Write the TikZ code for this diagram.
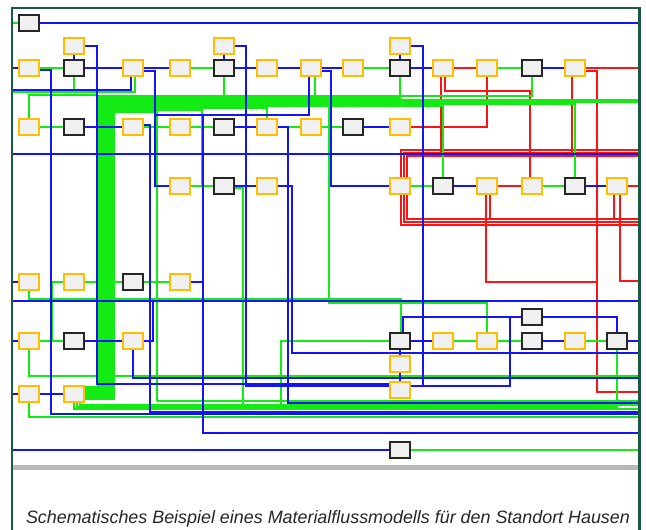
\documentclass[tikz,border=0pt]{standalone}
\usepackage{fontspec}
\setmainfont{Liberation Sans}
\usetikzlibrary{calc,positioning}
\pgfdeclarelayer{lines}
\pgfsetlayers{lines,main}
\definecolor{flowblue}{RGB}{20,20,245}
\definecolor{flowgreen}{RGB}{20,235,20}
\definecolor{flowred}{RGB}{250,20,20}
\definecolor{framegreen}{RGB}{25,90,65}
\definecolor{boxyellow}{RGB}{255,190,0}
\definecolor{boxfill}{RGB}{240,240,240}

\begin{document}
\begin{tikzpicture}[x=1pt,y=-1pt,
    ybox/.style={draw=boxyellow, fill=boxfill, line width=1.5pt, minimum width=20pt, minimum height=16pt, inner sep=0pt},
    kbox/.style={draw=black!85, fill=boxfill, line width=1.8pt, minimum width=20pt, minimum height=16pt, inner sep=0pt},
    bl/.style={draw=flowblue, line width=1.4pt},
    blt/.style={draw=flowblue, line width=2.4pt},
    gr/.style={draw=flowgreen, line width=1.4pt},
    gb/.style={draw=flowgreen, line width=1.1pt},
    rd/.style={draw=flowred, line width=1.4pt},
    rdt/.style={draw=flowred, line width=2.6pt},
]
\useasboundingbox (0,0) rectangle (646,530);
\begin{pgfonlayer}{lines}
\fill[white] (0,0) rectangle (646,530);
\end{pgfonlayer}

% Stations
\foreach \n/\x/\y in {T1/29/23, A2/74/68, A5/224/68, A9/400/68, A12/532/68, B2/74/127, B5/224/127,
    B8/353/127, C5/224/186, C10/443/186, C13/575/186, D3/133/282, G12/532/317, E2/74/341,
    E9/400/341, E12/532/341, E14/617/341, L9/400/450}
  \node[kbox] (\n) at (\x,\y) {};
\foreach \n/\x/\y in {S2/74/46, S5/224/46, S9/400/46, A1/29/68, A3/133/68, A4/180/68, A6/267/68,
    A7/311/68, A8/353/68, A10/443/68, A11/487/68, A13/575/68, B1/29/127, B3/133/127, B4/180/127,
    B6/267/127, B7/311/127, B9/400/127, C4/180/186, C6/267/186, C9/400/186, C11/487/186,
    C12/532/186, C14/617/186, D1/29/282, D2/74/282, D4/180/282, E1/29/341, E3/133/341,
    E10/443/341, E11/487/341, E13/575/341, H9/400/364, J9/400/390, F1/29/394, F2/74/394}
  \node[ybox] (\n) at (\x,\y) {};

\coordinate (g2) at (640,100);
\coordinate (g3) at (640,102);
\coordinate (g7) at (202,186);
\coordinate (g8) at (157,401);

\begin{pgfonlayer}{lines}
% Red flows
\draw[rd] (A10) -- (A11);
\draw[rd] (A13) -- (640,68);
\draw[rd] (C11) -- (C12);
\draw[rdt] ($(A13.east)+(0,3)$) -| (597,392) -- (640,392);
\draw[rd] ($(A10.south)+(2,0)$) |- (530,91) -- ($(C12.north)+(-2,0)$);
\draw[rd] (640,150) -- (401,150) -- (401,225) -- (640,225);
\draw[rdt] (640,153) -- (404,153) -- (404,222) -- (640,222);
\draw[rd] (640,156) -- (407,156) -- (407,219) -- (640,219);
\draw[rd] ($(A10.south)+(-2,0)$) -- (441,153);
\draw[rd] ($(A13.south)+(-3,0)$) -- (572,156);
\draw[rd] ($(C11.south)+(-1,0)$) |- (597,282);
\draw[rd] ($(C11.south)+(3,0)$) -- (490,219);
\draw[rd] ($(C14.south)+(3,0)$) |- (640,281);
\draw[rd] ($(C14.south)+(-3,0)$) -- (614,219);
\draw[rd] (C14) -- (640,186);
\draw[rd] (B9.east) -| (A11.south);

% Green flows
\draw[gr] (12,23) -- (T1);
\draw[gr] (A1) -- (A2);
\draw[gr] (A4) -- (A5);
\draw[gr] (A8) -- (A9);
\draw[gr] (A11) -- (A12);
\draw[gr] ($(A3.south)+(2,0)$) |- (12,92);
\draw[gr] (A2.south) -- (74,92);
\draw[gr] (B1.north) |- (98,95);
\draw[gr] (B1) -- (B2);
\draw[gr] (B3) -- (B4);
\draw[gr] (B4) -- (B5);
\draw[gr] (B6) -- (B7);
\draw[gr] (B7) -- (B8);
\draw[gr] (C4) -- (C5);
\draw[gr] (C9) -- (C10);
\draw[gr] (C12) -- (C13);
\draw[gr] ($(C5.east)+(0,2)$) -| (243,405) -- (281,405) |- (E9.west);
\draw[gr] (D1.south) |- (401,299) -- ($(E9.north)+(1,0)$);
\draw[gr] (D2.west) -| (52,341);
\draw[gr] (D2) -- (D3);
\draw[gr] (D3) -- (D4);
\draw[gr] (E1) -- (E2);
\draw[gr] (E1.south) |- (640,376);
\draw[gr] (E10) -- (E11);
\draw[gr] (E11) -- (E12);
\draw[gr] (E13) -- (E14);
\draw[gr] (329,100) -- (329,303) -| (E11.north);
\draw[gr] (F1.south) |- (640,417);
\draw[gr] (L9) -- (640,450);
\draw[gr] (A5.south) -- (224,96);
\draw[gr] ($(A7.south)+(4,0)$) -- (315,98);
% bundle out of F2
\foreach \i/\e in {0/A12.south, 1/A9.south, 2/g2, 3/g3, 4/C13.north, 5/C10.north, 6/B6.north, 7/g7, 8/g8}
  \draw[gb] ($(F2.east)+(0,-7+1.5*\i)$) -| ({98+2*\i},{96+2*\i}) -| (\e);
\draw[gr] (g8) -- (640,401);
\draw[gr] ($(F2.south)+(6,0)$) |- (640,405);
\draw[gr] ($(F2.south)+(3,0)$) |- (617,407) -- (E14.south);
\draw[gr] (F2.south) |- (640,409);

% Blue flows
\draw[bl] (T1) -- (640,23);
\draw[bl] (12,68) -- (A1);
\draw[bl] (A2) -- (A3);
\draw[bl] (A3) -- (A4);
\draw[bl] (A5) -- (A6);
\draw[bl] (A6) -- (A7);
\draw[bl] (A7) -- (A8);
\draw[bl] (A9) -- (A10);
\draw[bl] (A12) -- (A13);
\draw[bl] (S2) -- (A2);
\draw[bl] (S5) -- (A5);
\draw[bl] (S9) -- (A9);
\draw[bl] ($(A1.east)+(0,2)$) -| (51,414) -- (640,414);
\draw[bl] (S2.east) -| (97,384) -- ($(J9.west)+(0,-6)$);
\draw[blt] (S5.east) -| (246,386) -- ($(J9.west)+(0,-4)$);
\draw[bl] (S9.east) -| (423,386) -- ($(J9.east)+(0,-4)$);
\draw[bl] (G12.west) -| (510,386) -- (423,386);
\draw[bl] ($(E9.north)+(3,0)$) |- (G12.west);
\draw[bl] (G12.east) -| (E14.north);
\draw[bl] (12,154) -- (640,154);
\draw[bl] (12,301) -- (640,301);
\draw[bl] ($(A3.south)+(-2,0)$) |- (12,90);
\draw[blt] (B2) -- (B3);
\draw[bl] (B5) -- (B6);
\draw[bl] (B8) -- (B9);
\draw[blt] ($(A3.east)+(0,3)$) -| (155,186) -- (C4.west);
\draw[bl] ($(B3.east)+(0,-2)$) -| (150,412) -- (640,412);
\draw[bl] (E3.east) -| (153,301);
\draw[bl] (12,282) -- (D1);
\draw[bl] (12,341) -- (E1);
\draw[bl] (12,394) -- (F1);
\draw[bl] (F1) -- (F2);
\draw[bl] (E2) -- (E3);
\draw[bl] (E3.south) |- (640,378);
\draw[blt] (D4.east) -- (203,282);
\draw[bl] ($(A7.south)+(-2,0)$) |- (155,115);
\draw[bl] (203,115) -- (203,433) -- (640,433);
\draw[bl] ($(A7.east)+(0,3)$) -| (331,186) -- (C9.west);
\draw[bl] (C5) -- (C6);
\draw[bl] (C6.east) -| (292,353) -- (640,353);
\draw[bl] (B6.east) -| (288,403) -- (640,403);
\draw[bl] (C10) -- (C11);
\draw[bl] (C13) -- (C14);
\draw[bl] (E9) -- (E10);
\draw[bl] (E12) -- (E13);
\draw[bl] (E14) -- (640,341);
\draw[bl] (E9) -- (H9);
\draw[bl] (H9) -- (J9);
\draw[bl] (12,450) -- (L9);
\end{pgfonlayer}

% Frame and caption
\fill[black!28] (13,465) rectangle (639,470);
\draw[framegreen, line width=2.5pt] (12,540) -- (12,8) -- (639.5,8) -- (639.5,540);
\node[font=\fontsize{17.9}{21}\selectfont\itshape, text=black!85] (caption) at (328,519)
    {Schematisches Beispiel eines Materialflussmodells für den Standort Hausen};
\end{tikzpicture}
\end{document}
